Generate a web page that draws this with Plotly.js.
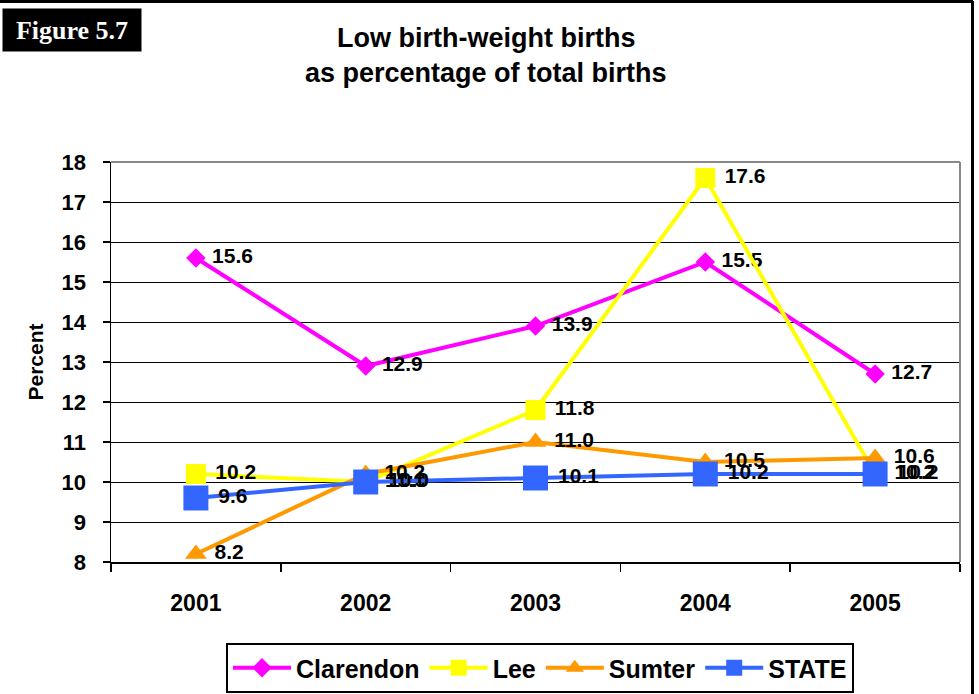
<!DOCTYPE html>
<html>
<head>
<meta charset="utf-8">
<script src="https://cdn.plot.ly/plotly-3.0.1.min.js"></script>
<style>
html,body{margin:0;padding:0;background:#fff;}
#chart{width:979px;height:694px;}
</style>
</head>
<body>
<div id="chart"></div>
<script>
const years = ["2001", "2002", "2003", "2004", "2005"];
const clarendon = [15.6, 12.9, 13.9, 15.5, 12.7];
const lee = [10.2, 10.0, 11.8, 17.6, 10.2];
const sumter = [8.2, 10.2, 11.0, 10.5, 10.6];
const state = [9.6, 10.0, 10.1, 10.2, 10.2];
const yTicks = [8, 9, 10, 11, 12, 13, 14, 15, 16, 17, 18];

const FONT = "Liberation Sans, Arial, Helvetica, sans-serif";
const labelFont = {family: FONT, size: 21, color: "#000", weight: "bold"};

function series(name, y, color, symbol, size) {
  return {
    type: "scatter", mode: "lines+markers+text", name: name,
    x: years, y: y,
    line: {color: color, width: 4},
    marker: {color: color, symbol: symbol, size: size},
    texttemplate: "\u00a0%{y:.1f}", textposition: "middle right",
    textfont: labelFont, cliponaxis: false, hoverinfo: "skip"
  };
}

const data = [
  series("Clarendon", clarendon, "#FF00FF", "diamond", 15),
  series("Lee", lee, "#FFFF00", "square", 20),
  series("Sumter", sumter, "#FF9900", "triangle-up", 19),
  series("STATE", state, "#3366FF", "square", 25)
];

const layout = {
  width: 979, height: 694,
  margin: {l: 111, r: 19, t: 162, b: 132},
  paper_bgcolor: "#fff", plot_bgcolor: "#fff",
  font: {family: FONT, color: "#000"},
  showlegend: true,
  legend: {
    orientation: "h", xref: "container", yref: "container",
    x: 540/979, xanchor: "center", y: (694-643)/694, yanchor: "top",
    bordercolor: "#000", borderwidth: 2, bgcolor: "#fff",
    font: {family: FONT, size: 25, color: "#000", weight: "bold"},
    itemwidth: 58,
    itemclick: false, itemdoubleclick: false
  },
  xaxis: {
    type: "category", range: [-0.5, 4.5], automargin: false,
    showgrid: false, showline: true, linecolor: "#000", linewidth: 1.5,
    ticks: "outside", tickson: "boundaries", ticklen: 8, tickcolor: "#000", tickwidth: 1.5,
    tickfont: {family: FONT, size: 23, color: "#000", weight: "bold"},
    ticklabelstandoff: 20, fixedrange: true
  },
  yaxis: {
    range: [8, 18], tickvals: yTicks, ticktext: yTicks.map(String), automargin: false,
    showgrid: true, gridcolor: "#000", gridwidth: 1,
    showline: true, linecolor: "#000", linewidth: 1.5, zeroline: false,
    ticks: "outside", ticklen: 7, tickcolor: "#000", tickwidth: 1.5,
    tickfont: {family: FONT, size: 22, color: "#000", weight: "bold"},
    ticklabelstandoff: 12,
    title: {text: "Percent", font: {family: FONT, size: 21, color: "#000", weight: "bold"}, standoff: 12},
    fixedrange: true
  },
  shapes: [
    {type: "line", xref: "paper", yref: "paper", x0: 0, x1: 1, y0: 1, y1: 1, line: {color: "#888", width: 2}},
    {type: "line", xref: "paper", yref: "paper", x0: 1, x1: 1, y0: 0, y1: 1, line: {color: "#888", width: 2}},
    {type: "line", xref: "paper", yref: "paper", x0: -111/849, x1: 1 + 13/849, y0: 1 + 160.5/400, y1: 1 + 160.5/400, line: {color: "#000", width: 3}},
    {type: "line", xref: "paper", yref: "paper", x0: 1 + 12.5/849, x1: 1 + 12.5/849, y0: 1 + 161/400, y1: -132/400, line: {color: "#000", width: 3}}
  ],
  annotations: [
    {text: "<b>Figure 5.7</b>", xref: "paper", yref: "paper", x: -109/849, y: 1 + 154/400,
     xanchor: "left", yanchor: "top", showarrow: false, bgcolor: "#000",
     width: 136, height: 40, align: "center", valign: "middle",
     font: {family: "Liberation Serif, Times New Roman, serif", size: 26, color: "#fff"}},
    {text: "<b>Low birth-weight births</b>", xref: "paper", yref: "paper", x: (486-111)/849, y: 1 + (562-38-400)/400,
     xanchor: "center", yanchor: "middle", showarrow: false,
     font: {family: FONT, size: 27, color: "#000"}},
    {text: "<b>as percentage of total births</b>", xref: "paper", yref: "paper", x: (486-111)/849, y: 1 + (562-73-400)/400,
     xanchor: "center", yanchor: "middle", showarrow: false,
     font: {family: FONT, size: 27, color: "#000"}}
  ]
};

Plotly.newPlot("chart", data, layout, {displayModeBar: false, staticPlot: true});
</script>
</body>
</html>
